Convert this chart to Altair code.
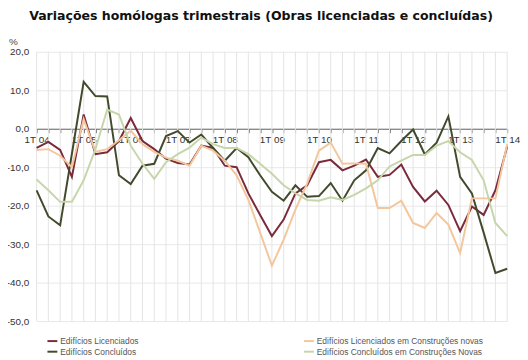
import json
import altair as alt
import pandas as pd

# ---- data -------------------------------------------------------------
years = ["04", "05", "06", "07", "08", "09", "10", "11", "12", "13", "14"]
quarter_names = [f"{q}T{y}" for y in years for q in range(1, 5)][:41]
tick_labels = [f"1T {years[i // 4]}" if i % 4 == 0 else "" for i in range(41)]

series_names = [
    "Edifícios Licenciados",
    "Edifícios Concluídos",
    "Edifícios Licenciados em Construções novas",
    "Edifícios Concluídos em Construções Novas",
]
series_colors = ["#7b2a3c", "#414a2c", "#f3c69c", "#c6d6aa"]

licenciados = [
    -5.0, -3.4, -5.5, -12.5, 3.7, -6.6, -6.1, -3.2, 2.8, -3.2, -5.3,
    -7.8, -8.9, -9.3, -4.4, -5.0, -9.6, -10.0, -16.8, -22.4, -27.9,
    -23.6, -16.8, -14.7, -8.7, -8.1, -10.8, -9.6, -8.0, -12.5, -12.0,
    -9.3, -15.1, -18.9, -16.1, -19.8, -26.6, -20.2, -22.4, -16.0, -4.6,
]
concluidos = [
    -16.0, -22.8, -25.1, -6.5, 12.2, 8.5, 8.4, -12.1, -14.4, -9.6, -9.1,
    -1.9, -0.6, -3.6, -1.5, -5.0, -8.3, -5.0, -7.4, -12.1, -16.4,
    -18.7, -14.7, -17.7, -17.5, -14.1, -18.7, -13.4, -10.8, -5.0, -6.4,
    -3.2, -0.2, -6.7, -3.6, 3.2, -12.5, -16.8, -27.0, -37.5, -36.4,
]
licenciados_novas = [
    -5.5, -5.3, -7.0, -10.0, 2.5, -6.0, -5.3, -3.0, -0.5, -4.0, -6.0,
    -7.5, -8.3, -9.6, -4.4, -5.7, -8.3, -12.1, -18.5, -27.0, -35.6,
    -28.8, -21.0, -14.2, -5.7, -3.6, -9.1, -9.0, -9.1, -20.6, -20.6,
    -18.7, -24.5, -25.8, -21.9, -24.9, -32.3, -18.1, -18.1, -18.1, -4.0,
]
concluidos_novas = [
    -13.2, -16.0, -19.0, -19.0, -13.4, -5.3, 5.0, 3.7, -4.4, -9.1, -13.0,
    -8.7, -6.6, -4.9, -2.3, -4.0, -5.0, -5.0, -6.6, -9.1, -11.7,
    -14.7, -16.8, -18.5, -18.7, -17.8, -18.5, -17.2, -15.5, -13.4, -9.8,
    -8.3, -6.8, -6.8, -4.4, -3.2, -6.1, -8.1, -13.4, -24.5, -27.9,
]
y_ticks = [-50, -40, -30, -20, -10, 0, 10, 20]

# ---- tables -----------------------------------------------------------
rows = []
for name, vals in zip(series_names,
                      [licenciados, concluidos, licenciados_novas, concluidos_novas]):
    for i, v in enumerate(vals):
        rows.append({"idx": i, "trimestre": quarter_names[i], "serie": name, "valor": v})
df = pd.DataFrame(rows)
df_q = pd.DataFrame({"idx": list(range(41))})

W, H = 477, 273
Y_MIN, Y_MAX = -50, 20
zero_offset = -(H - H * (Y_MAX - 0) / (Y_MAX - Y_MIN))

x_scale = alt.Scale(domain=[0, 40], nice=False, zero=False)
y_scale = alt.Scale(domain=[Y_MIN, Y_MAX], nice=False)

x_axis = alt.Axis(
    title=None,
    values=list(range(41)),
    labelExpr=f"{json.dumps(tick_labels)}[datum.value]",
    offset=zero_offset,
    grid=False,
    domainColor="#666666",
    tickColor="#666666",
    tickSize=4,
    labelFont="Liberation Sans",
    labelFontSize=10,
    labelColor="#333333",
    labelPadding=2,
    labelOverlap=False,
    labelFlush=False,
)

vgrid = alt.Chart(df_q).mark_rule(color="#e4e4e4", strokeWidth=1).encode(
    x=alt.X("idx:Q", scale=x_scale, axis=x_axis),
    y=alt.value(0),
    y2=alt.value(H),
)

lines = alt.Chart(df).mark_line(strokeWidth=2).encode(
    x=alt.X("idx:Q", scale=x_scale, axis=x_axis),
    y=alt.Y(
        "valor:Q",
        scale=y_scale,
        axis=alt.Axis(
            values=y_ticks,
            labelExpr="(datum.value < 0 ? '-' : '') + abs(datum.value) + ',0'",
            grid=True,
            gridColor="#e8e8e8",
            domain=False,
            ticks=False,
            labelPadding=8,
            labelFont="Liberation Sans",
            labelFontSize=10,
            labelColor="#333333",
            title="%",
            titleAngle=0,
            titleX=-24,
            titleY=-10,
            titleAlign="center",
            titleBaseline="middle",
            titleFont="Liberation Sans",
            titleFontSize=10,
            titleFontWeight="normal",
            titleColor="#444444",
        ),
    ),
    color=alt.Color(
        "serie:N",
        scale=alt.Scale(domain=series_names, range=series_colors),
        sort=series_names,
        legend=alt.Legend(
            title=None,
            orient="none",
            legendX=10,
            legendY=287,
            columns=2,
            columnPadding=163,
            rowPadding=0,
            symbolType="stroke",
            symbolStrokeWidth=2,
            symbolSize=100,
            labelFont="Liberation Sans",
            labelFontSize=8.5,
            labelLimit=400,
            labelColor="#555555",
            labelOffset=2,
            padding=0,
        ),
    ),
    detail="serie:N",
    order="idx:Q",
)

chart = (
    alt.layer(vgrid, lines)
    .properties(
        width=W,
        height=H,
        autosize=alt.AutoSizeParams(type="none"),
        padding={"left": 29, "top": 42, "right": 13, "bottom": 35},
        title=alt.TitleParams(
            "Variações homólogas trimestrais (Obras licenciadas e concluídas)",
            font="DejaVu Sans",
            fontSize=12.7,
            fontWeight="bold",
            color="#111111",
            anchor="middle",
            dx=-11,
            offset=15,
        ),
    )
    .configure_view(stroke=None)
)

chart.save("out.html", embed_options={"renderer": "svg", "actions": False})
